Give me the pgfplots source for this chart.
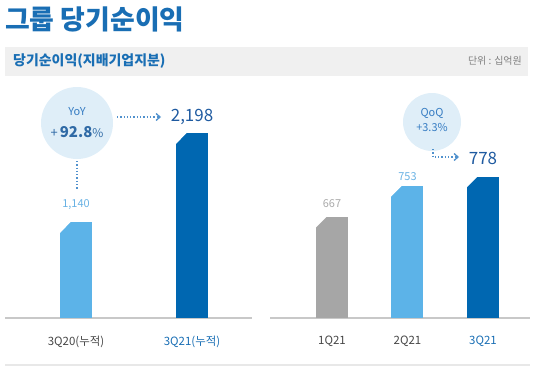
\documentclass[border=0pt]{standalone}
\usepackage{pgfplots}
\pgfplotsset{compat=1.18}
\usetikzlibrary{arrows.meta}
\usepackage{fontspec}
\setmainfont{Noto Sans CJK KR}
\definecolor{titleblue}{RGB}{25,110,180}
\definecolor{darkblue}{RGB}{0,103,177}
\definecolor{lightblue}{RGB}{92,179,232}
\definecolor{bargray}{RGB}{166,166,166}
\definecolor{baseline}{RGB}{200,200,200}
\definecolor{labgray}{RGB}{70,70,70}
\definecolor{bubble}{RGB}{223,238,248}
\definecolor{bubtext}{RGB}{55,125,195}
\definecolor{dotblue}{RGB}{80,145,205}
\definecolor{valdark}{RGB}{30,90,160}
\definecolor{vallight}{RGB}{105,178,228}
\definecolor{valgray}{RGB}{170,170,170}
\definecolor{band}{RGB}{240,240,240}
\definecolor{rule}{RGB}{232,232,232}
\pgfplotsset{mybar/.style={
  scale only axis, ybar, bar width=32bp, height=230bp,
  anchor=south west,
  axis x line*=bottom, axis y line=none,
  x axis line style={draw=baseline, line width=1.5bp},
  major tick length=0pt,
  xticklabel style={font=\fontsize{11.5}{13}\selectfont, text=labgray, yshift=-14bp},
  clip mode=individual,
}}
\begin{document}
\begin{tikzpicture}[x=1bp,y=1bp]
\path[use as bounding box] (0,0) rectangle (540,367);
% title
\node[anchor=west, inner sep=0pt, text=titleblue, font=\fontsize{27}{30}\selectfont\bfseries] at (5,348) {그룹 당기순이익};
% band
\fill[band] (5,291) rectangle (528,320);
\node[anchor=west, inner sep=0pt, text=titleblue, font=\fontsize{14}{16}\selectfont\bfseries] at (13,306) {당기순이익(지배기업지분)};
\node[anchor=east, inner sep=0pt, text=gray, font=\fontsize{10}{12}\selectfont] at (522,306) {단위 : 십억원};
% bottom rule
\draw[rule, line width=1.5bp] (5,2) -- (530,2);

% left axis
\begin{axis}[mybar, at={(5bp,49bp)}, width=247bp,
  xmin=-0.612, xmax=1.517, ymin=0, ymax=2732,
  xtick={0,1}, xticklabels={3Q20(누적), \textcolor{titleblue}{3Q21(누적)}}]
\addplot[fill=lightblue, draw=none, bar shift=0pt, nodes near coords={1,140},
  every node near coord/.append style={anchor=center, yshift=17bp, text=vallight, font=\fontsize{11}{13}\selectfont}]
  coordinates {(0,1140)};
\addplot[fill=darkblue, draw=none, bar shift=0pt]
  coordinates {(1,2198)};
\fill[white] ([xshift=-16.5bp,yshift=0.5bp]axis cs:0,1140) -- ++(11.5bp,0bp) -- ++(-11.5bp,-12bp) -- cycle;
\fill[white] ([xshift=-16.5bp,yshift=0.5bp]axis cs:1,2198) -- ++(11.5bp,0bp) -- ++(-11.5bp,-12bp) -- cycle;
\node[text=valdark, font=\fontsize{17}{19}\selectfont, anchor=center] at ([yshift=16bp]axis cs:1,2198) {2,198};
\end{axis}

% right axis
\begin{axis}[mybar, at={(270bp,49bp)}, width=260bp,
  xmin=-0.821, xmax=2.623, ymin=390, ymax=1023.6,
  xtick={0,1,2}, xticklabels={1Q21, 2Q21, \textcolor{titleblue}{3Q21}}]
\addplot[fill=bargray, draw=none, bar shift=0pt, nodes near coords={667},
  every node near coord/.append style={anchor=center, yshift=14bp, text=valgray, font=\fontsize{11}{13}\selectfont}]
  coordinates {(0,667)};
\addplot[fill=lightblue, draw=none, bar shift=0pt, nodes near coords={753},
  every node near coord/.append style={anchor=center, yshift=10bp, text=vallight, font=\fontsize{11}{13}\selectfont}]
  coordinates {(1,753)};
\addplot[fill=darkblue, draw=none, bar shift=0pt]
  coordinates {(2,778)};
\fill[white] ([xshift=-16.5bp,yshift=0.5bp]axis cs:0,667) -- ++(11bp,0bp) -- ++(-11bp,-11bp) -- cycle;
\fill[white] ([xshift=-16.5bp,yshift=0.5bp]axis cs:1,753) -- ++(11bp,0bp) -- ++(-11bp,-11bp) -- cycle;
\fill[white] ([xshift=-16.5bp,yshift=0.5bp]axis cs:2,778) -- ++(11bp,0bp) -- ++(-11bp,-11bp) -- cycle;
\node[text=valdark, font=\fontsize{17}{19}\selectfont, anchor=center] at ([yshift=19bp]axis cs:2,778) {778};
\end{axis}

% left bubble
\fill[bubble] (77,244) circle (36);
\node[text=bubtext, font=\fontsize{11}{13}\selectfont] at (77,255) {YoY};
\node[text=bubtext!85!black, font=\fontsize{13}{15}\selectfont] at (77,235) {+\,\textbf{\fontsize{15}{17}\selectfont 92.8}\fontsize{12}{14}\selectfont\%};
\draw[dotblue, line width=1.3bp, dotted] (77,206) -- (77,177);
\draw[dotblue, line width=1.3bp, dotted] (117,250) -- (158,250);
\draw[dotblue, line width=1.3bp, -{Straight Barb[length=4bp,width=7bp]}] (157,250) -- (161,250);
% right bubble
\fill[bubble] (432,245) circle (29);
\node[text=bubtext, font=\fontsize{11}{13}\selectfont] at (432,254) {QoQ};
\node[text=bubtext, font=\fontsize{11}{13}\selectfont] at (432,240) {+3.3\%};
\draw[dotblue, line width=1.3bp, dotted] (433,218) -- (433,210) -- (456,210);
\draw[dotblue, line width=1.3bp, -{Straight Barb[length=4bp,width=7bp]}] (455,210) -- (459,210);
\end{tikzpicture}
\end{document}
